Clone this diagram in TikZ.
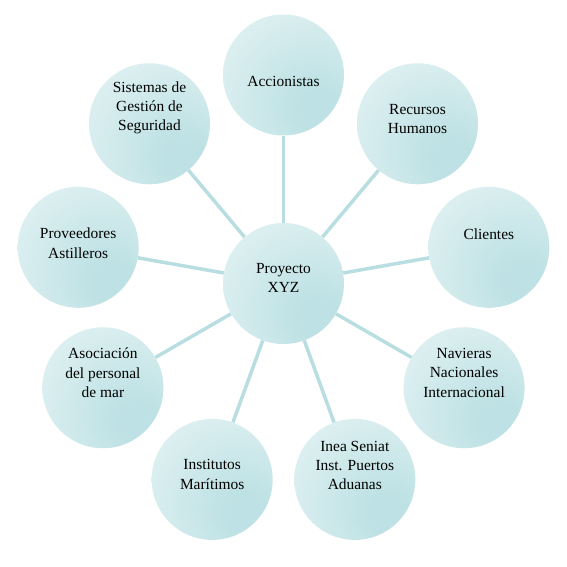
\documentclass[tikz,border=0pt]{standalone}
\usepackage{fontspec}
\setmainfont{Liberation Serif}
\usetikzlibrary{calc}
\definecolor{bublight}{RGB}{229,243,244}
\definecolor{bubdark}{RGB}{189,225,228}
\definecolor{spokecol}{RGB}{184,222,225}
\pgfdeclareradialshading{bubble}{\pgfpoint{16bp}{-16bp}}{%
  color(0bp)=(bubdark); color(8bp)=(bubdark); color(45bp)=(bublight); color(80bp)=(bublight)}
\tikzset{
  bubble/.style={circle,minimum size=121bp,inner sep=0pt,shading=bubble},
  spoke/.style={line width=3.5bp,spokecol},
  bubble text/.style={font=\fontsize{15.5}{19.5}\selectfont,align=center,inner sep=0pt}
}

\begin{document}
\begin{tikzpicture}[x=1bp,y=1bp]
  \def\R{208.5} % ring radius
  \useasboundingbox (-283.5,-283.5) rectangle (283.5,283.5);

  % BUBBLES
  \node[bubble] (xyz) at (0,0) {};
  \foreach \name/\ang in {acc/90,rrhh/50,cli/10,nav/-30,inea/-70,
                          inst/-110,asoc/-150,prov/170,sis/130}{
    \node[bubble] (\name) at (\ang:\R) {};
  }

  % SPOKES
  \foreach \name in {acc,rrhh,cli,nav,inea,inst,asoc,prov,sis}{
    \draw[spoke] (xyz) -- (\name);
  }

  % TEXTS
  \node[bubble text] (xyz-t)  at ([yshift=5.5]xyz.center)  {Proyecto\\XYZ};
  \node[bubble text] (acc-t)  at ([yshift=-6]acc.center)   {Accionistas};
  \node[bubble text] (rrhh-t) at ([yshift=5]rrhh.center)   {Recursos\\Humanos};
  \node[bubble text] (cli-t)  at ([yshift=13]cli.center)   {Clientes};
  \node[bubble text] (nav-t)  at ([yshift=15]nav.center)   {Navieras\\Nacionales\\Internacional};
  \node[bubble text] (inea-t) at ([yshift=14]inea.center)  {Inea Seniat\\Inst. Puertos\\Aduanas};
  \node[bubble text] (inst-t) at ([yshift=5]inst.center)   {Institutos\\Marítimos};
  \node[bubble text] (asoc-t) at ([yshift=15]asoc.center)  {Asociación\\del personal\\de mar};
  \node[bubble text] (prov-t) at ([yshift=4]prov.center)   {Proveedores\\Astilleros};
  \node[bubble text] (sis-t)  at ([yshift=16]sis.center)   {Sistemas de\\Gestión de\\Seguridad};
\end{tikzpicture}
\end{document}
